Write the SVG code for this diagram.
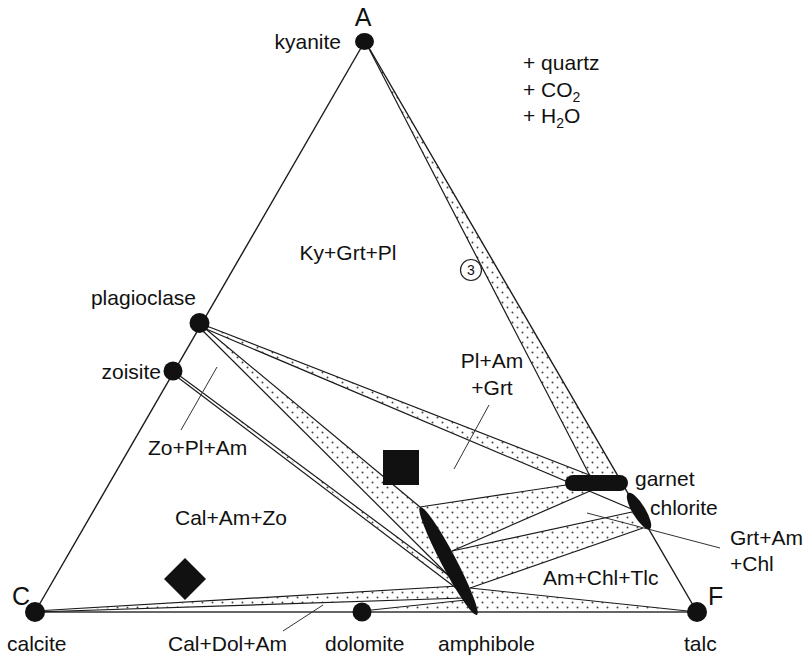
<svg xmlns="http://www.w3.org/2000/svg" width="805" height="656" viewBox="0 0 805 656">
<defs>
<pattern id="stipple" width="10" height="10" patternUnits="userSpaceOnUse">
<rect width="10" height="10" fill="#fff"/>
<circle cx="2.5" cy="2.5" r="1" fill="#444"/>
<circle cx="7.5" cy="7.5" r="1" fill="#444"/>
</pattern>
</defs>
<style>
.band{fill:url(#stipple);stroke:none}
.edge{stroke:#1a1a1a;stroke-width:1.4;fill:none}
.base{stroke:#666;stroke-width:2.2;fill:none}
.tie{stroke:#1a1a1a;stroke-width:1.2;fill:none}
.lead{stroke:#333;stroke-width:1;fill:none}
.ph{fill:#111}
text{font-family:"Liberation Sans",Arial,Helvetica,sans-serif;font-size:21px;fill:#111}
.vtx{font-size:25px}
.sub{font-size:14px}
</style>
<rect width="805" height="656" fill="#fff"/>

<g id="bands">
<polygon class="band" points="365,41 590,476 618,476"/>
<polygon class="band" points="199,323 592,476 566,480 199,326"/>
<polygon class="band" points="201,325 420,507 464,591"/>
<polygon class="band" points="178,374 455,580 460,591"/>
<polygon class="band" points="35,612 458,586 464,598"/>
<polygon class="band" points="362,612 466,600 476,612"/>
<polygon class="band" points="420,507 566,485 590,491 452,551"/>
<polygon class="band" points="452,551 632,512 643,528 470,588"/>
<polygon class="band" points="470,588 697,612 477,612"/>
</g>

<g id="connectors">
<line class="edge" x1="365" y1="41" x2="35" y2="612"/>
<line class="edge" x1="365" y1="41" x2="697" y2="612"/>
<line class="base" x1="35" y1="612" x2="697" y2="612"/>
<line class="tie" x1="365" y1="41" x2="590" y2="476"/>
<line class="tie" x1="199" y1="323" x2="592" y2="476"/>
<line class="tie" x1="199" y1="326" x2="634" y2="510"/>
<line class="tie" x1="201" y1="325" x2="420" y2="507"/>
<line class="tie" x1="199" y1="327" x2="464" y2="591"/>
<line class="tie" x1="176" y1="373" x2="455" y2="580"/>
<line class="tie" x1="176" y1="376" x2="460" y2="591"/>
<line class="tie" x1="35" y1="611" x2="458" y2="586"/>
<line class="tie" x1="35" y1="612" x2="464" y2="598"/>
<line class="tie" x1="362" y1="611" x2="466" y2="600"/>
<line class="tie" x1="420" y1="507" x2="566" y2="485"/>
<line class="tie" x1="452" y1="551" x2="590" y2="491"/>
<line class="tie" x1="452" y1="551" x2="632" y2="512"/>
<line class="tie" x1="470" y1="588" x2="643" y2="528"/>
<line class="tie" x1="470" y1="588" x2="697" y2="612"/>
<line class="lead" x1="217" y1="367" x2="181" y2="430"/>
<line class="lead" x1="489" y1="405" x2="454" y2="469"/>
<line class="lead" x1="587" y1="513" x2="720" y2="548"/>
<line class="lead" x1="323" y1="605" x2="283" y2="631"/>
</g>

<g id="kyanite"><ellipse class="ph" cx="364.5" cy="41.5" rx="9.5" ry="8.5"/><text x="341" y="49" text-anchor="end">kyanite</text></g>
<g id="vertex-A"><text class="vtx" x="363" y="26" text-anchor="middle">A</text></g>
<g id="plagioclase"><circle class="ph" cx="199.5" cy="323" r="10"/><text x="196" y="305" text-anchor="end">plagioclase</text></g>
<g id="zoisite"><circle class="ph" cx="173" cy="371" r="9.5"/><text x="161" y="379" text-anchor="end">zoisite</text></g>
<g id="calcite"><circle class="ph" cx="35" cy="612" r="10"/><text class="vtx" x="12" y="605">C</text><text x="7" y="651">calcite</text></g>
<g id="dolomite"><circle class="ph" cx="362" cy="612" r="9.5"/><text x="325" y="651">dolomite</text></g>
<g id="amphibole"><ellipse class="ph" cx="448.5" cy="561" rx="61" ry="7.5" transform="rotate(62.2 448.5 561)"/><text x="438" y="651">amphibole</text></g>
<g id="talc"><circle class="ph" cx="697" cy="612" r="10"/><text class="vtx" x="708" y="605">F</text><text x="684" y="651">talc</text></g>
<g id="garnet"><rect class="ph" x="565" y="475" width="63" height="16" rx="8"/><text x="635" y="486">garnet</text></g>
<g id="chlorite"><ellipse class="ph" cx="639" cy="511" rx="21" ry="6.5" transform="rotate(59 639 511)"/><text x="650" y="515">chlorite</text></g>
<g id="square"><rect class="ph" x="383" y="450" width="36" height="35"/></g>
<g id="diamond"><polygon class="ph" points="185,558 206,579 185,600 164,579"/></g>
<g id="marker-3"><circle cx="471" cy="270" r="10.5" fill="#fff" stroke="#222" stroke-width="1.2"/><text x="471" y="275" text-anchor="middle" style="font-size:14px">3</text></g>

<g id="labels">
<text x="523" y="70">+ quartz</text>
<text x="523" y="97">+ CO<tspan class="sub" dy="5">2</tspan></text>
<text x="523" y="123">+ H<tspan class="sub" dy="5">2</tspan><tspan dy="-5">O</tspan></text>
<text x="348" y="260" text-anchor="middle">Ky+Grt+Pl</text>
<text x="492" y="368" text-anchor="middle">Pl+Am</text>
<text x="492" y="395" text-anchor="middle">+Grt</text>
<text x="148" y="455">Zo+Pl+Am</text>
<text x="175" y="525">Cal+Am+Zo</text>
<text x="168" y="651">Cal+Dol+Am</text>
<text x="543" y="585">Am+Chl+Tlc</text>
<text x="730" y="545">Grt+Am</text>
<text x="730" y="571">+Chl</text>
</g>
</svg>
